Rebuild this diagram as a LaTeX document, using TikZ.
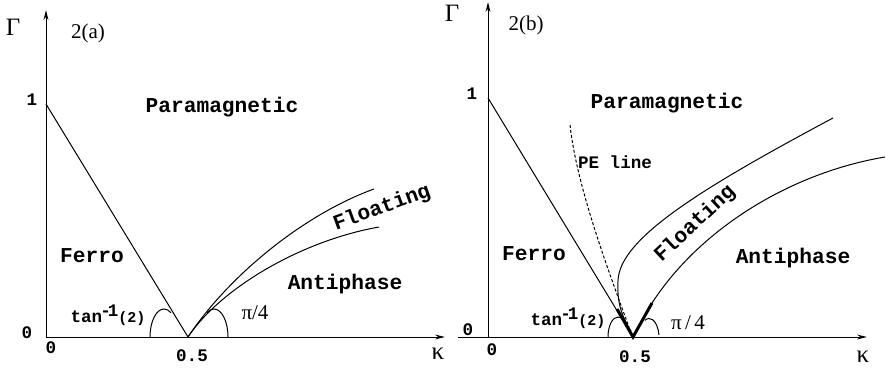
\documentclass[tikz,border=0pt]{standalone}
\usepackage{fontspec}
\setmainfont{Liberation Serif}
\setmonofont{Liberation Mono}
\usetikzlibrary{arrows.meta,calc}

\begin{document}
\begin{tikzpicture}
[
  x=0.5pt, y=0.5pt,
  every node/.style={inner sep=0pt},
  phase/.style={font=\ttfamily\bfseries\fontsize{10.6}{12}\selectfont},
  tick/.style={font=\ttfamily\bfseries\fontsize{8.8}{10}\selectfont},
  sym/.style={font=\fontsize{10.5}{12}\selectfont},
  big/.style={font=\fontsize{12.5}{14}\selectfont},
  axis/.style={draw, line width=0.5pt, -{Stealth[length=5pt,width=2.4pt]}},
  border/.style={draw, line width=0.5pt},
  fat/.style={draw, line width=1.5pt},
  peline/.style={draw, line width=0.5pt, dash pattern=on 1.5pt off 1pt}
]
\useasboundingbox (0,0) rectangle (886,369);

% panel 2(a)
\coordinate (oa) at (46,32);
\coordinate (ya) at (46,359);
\coordinate (xa) at (445,32);
\coordinate (fa) at (46,265);
\coordinate (va) at (188,32);
\coordinate (ua) at (374,180);
\coordinate (la) at (379,142);

\draw[axis] (oa) -- (ya);
\draw[axis] (oa) -- (xa);
\draw[border] (fa) -- (va);
\draw[border] (va) .. controls (230,95) and (305,155) .. (ua);
\draw[border] (va) .. controls (220,80) and (300,128) .. (la);
\draw[border] (150,32) arc[start angle=180, end angle=60, x radius=14, y radius=28];
\draw[border] (228,32) arc[start angle=0, end angle=120, x radius=14, y radius=28];

\node[big] (Ga) at (13,342) {Γ};
\node[sym] (capa) at (88,336) {2(a)};
\node[tick] (onea) at (32,269) {1};
\node[tick] (zya) at (27,36) {0};
\node[tick] (zxa) at (51,21) {0};
\node[tick] (hxa) at (192,13) {0.5};
\node[big] (ka) at (438,15) {κ};
\node[phase] (para) at (222,262) {Paramagnetic};
\node[phase] (fera) at (92,113) {Ferro};
\node[phase] (antia) at (345,85) {Antiphase};
\node[phase, rotate=20] (floa) at (382,161) {Floating};
\node[tick] (tana) at (108,54) {tan\raisebox{3pt}{\kern-1pt-\kern-1.5pt1}{\fontsize{7.5}{8}\selectfont(2)}};
\node[sym] (pia) at (255,56) {π/4};

% panel 2(b)
\coordinate (ob) at (488,32);
\coordinate (yb) at (488,367);
\coordinate (sb) at (458,32);
\coordinate (xb) at (867,32);
\coordinate (fb) at (488,271);
\coordinate (vb) at (633,32);
\coordinate (tl) at (617,60);
\coordinate (tr) at (652,66);
\coordinate (ub) at (833,251);
\coordinate (lb) at (885,212);
\coordinate (pe) at (570,244);

\draw[axis] (ob) -- (yb);
\draw[axis] (sb) -- (xb);
\draw[border] (fb) -- (vb);
\draw[fat] (tl) -- (vb) -- (tr);
\draw[peline] (pe) .. controls (576,190) and (600,120) .. (629,42);
\draw[border] (631,38) .. controls (620,55) and (617,70) .. (618,88)
  .. controls (619,130) and (700,180) .. (ub);
\draw[border] (tr) .. controls (700,140) and (790,196) .. (lb);
\draw[border] (608,32) arc[start angle=180, end angle=60, x radius=10, y radius=20];
\draw[border] (659,34) arc[start angle=10, end angle=115, x radius=10, y radius=20];

\node[big] (Gb) at (452,356) {Γ};
\node[sym] (capb) at (526,344) {2(b)};
\node[tick] (oneb) at (472,275) {1};
\node[tick] (zyb) at (468,39) {0};
\node[tick] (zxb) at (492,19) {0};
\node[tick] (hxb) at (635,12) {0.5};
\node[big] (kb) at (863,12) {κ};
\node[phase] (parb) at (667,266) {Paramagnetic};
\node[tick] (peb) at (615,207) {PE line};
\node[phase] (ferb) at (534,115) {Ferro};
\node[phase, rotate=43] (flob) at (695,145) {Floating};
\node[phase] (antib) at (793,111) {Antiphase};
\node[tick] (tanb) at (568,51) {tan\raisebox{3pt}{\kern-1pt-\kern-1.5pt1}{\fontsize{7.5}{8}\selectfont(2)}};
\node[sym] (pib) at (688,46) {π\,/\,4};
\end{tikzpicture}
\end{document}
